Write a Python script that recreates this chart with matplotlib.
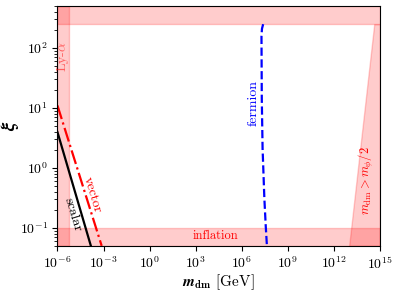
import numpy as np
import matplotlib
matplotlib.use("Agg")
import matplotlib.pyplot as plt

plt.rcParams['font.family'] = 'cmr10'
plt.rcParams['mathtext.fontset'] = 'cm'
plt.rcParams['axes.formatter.use_mathtext'] = True
plt.rcParams['axes.unicode_minus'] = False
plt.rcParams['font.size'] = 10

# curves (m_dm in GeV, xi)
scalar_m = [1e-6, 1.5e-4]
scalar_xi = [3.96, 0.05]
vector_m = [1e-6, 7.6e-4]
vector_xi = [11.0, 0.05]
fermion_m = [2.5e7, 2.1e7, 1.95e7, 2.04e7, 2.3e7, 3.0e7, 3.7e7, 4.4e7]
fermion_xi = [250, 210, 160, 14.2, 2.1, 0.31, 0.106, 0.05]

# excluded regions
xi_max = 250        # top band
xi_min = 0.1        # inflation
m_lya = 5.3e-6      # Ly-alpha
decay_xi = [0.05, 250]
decay_m = [1.0e13, 4.3e14]

xlim = (1e-6, 1e15)
ylim = (0.05, 500)

fig = plt.figure(figsize=(3.99, 2.92), dpi=100)
ax = fig.add_axes([0.144, 0.158, 0.808, 0.821])

ax.axhspan(xi_max, ylim[1], color='r', alpha=0.2)
ax.axhspan(ylim[0], xi_min, color='r', alpha=0.2)
ax.axvspan(xlim[0], m_lya, color='r', alpha=0.2)
ax.fill_betweenx(decay_xi, decay_m, [xlim[1], xlim[1]], color='r', alpha=0.2)

ax.plot(scalar_m, scalar_xi, 'k-', lw=1.6)
ax.plot(vector_m, vector_xi, 'r-.', lw=1.6)
ax.plot(fermion_m, fermion_xi, 'b--', lw=1.6)

ax.text(2.4e-6, 73, r'Ly-$\alpha$', color='r', alpha=0.55, rotation=90,
        ha='center', va='center', fontsize=10)
ax.text(2e4, 0.072, 'inflation', color='r', ha='center', va='center', fontsize=9)
ax.text(1.35e14, 0.62, r'$m_{\rm dm} > m_\phi/2$', color='r', rotation=90,
        ha='center', va='center', fontsize=9)
ax.text(1.0e-5, 0.165, 'scalar', color='k', rotation=-73,
        ha='center', va='center', fontsize=10)
ax.text(1.7e-4, 0.35, 'vector', color='r', rotation=-73,
        ha='center', va='center', fontsize=10)
ax.text(6e6, 12, 'fermion', color='b', rotation=90,
        ha='center', va='center', fontsize=10)

ax.set_xscale('log')
ax.set_yscale('log')
ax.set_xlim(*xlim)
ax.set_ylim(*ylim)
ax.set_xticks([10.0**k for k in range(-6, 16, 3)])
ax.xaxis.set_minor_locator(matplotlib.ticker.NullLocator())

ax.set_xlabel(r'$\mathbfit{m}_{\mathbf{dm}}$ [GeV]', fontsize=11, labelpad=0)
ax.set_ylabel(r'$\mathbfit{\xi}$', fontsize=14)
ax.yaxis.set_label_coords(-0.112, 0.5)

fig.savefig('out.png', dpi=100)
